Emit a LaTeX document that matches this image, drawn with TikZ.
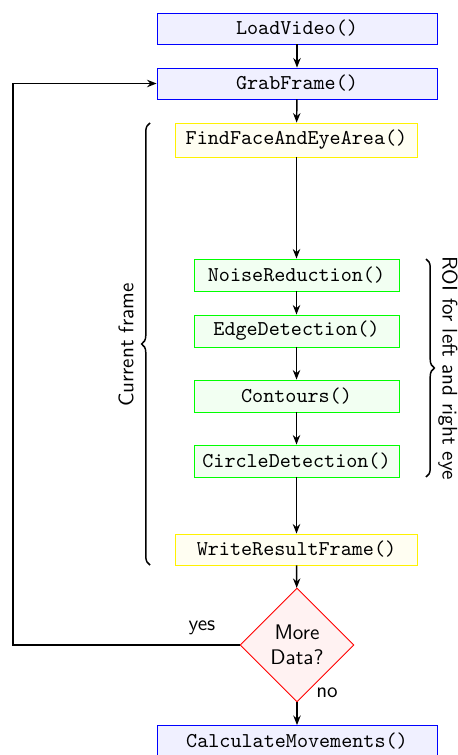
\documentclass[tikz,border=0pt]{standalone}
\usetikzlibrary{shapes.geometric,arrows.meta,decorations.pathreplacing}
\begin{document}
\begin{tikzpicture}[x=0.474pt,y=-0.474pt,
  box/.style={draw,rectangle,inner sep=0pt,font=\ttfamily,line width=0.4pt},
  bluebox/.style={box,draw=blue,fill=blue!6,minimum width=132.7pt,minimum height=14.7pt},
  yellowbox/.style={box,draw=yellow,fill=yellow!5,minimum width=114.7pt},
  greenbox/.style={box,draw=green,fill=green!5,minimum width=97.2pt,minimum height=15.2pt},
  decision/.style={diamond,draw=red,fill=red!5,aspect=1,minimum width=54pt,minimum height=54pt,inner sep=0pt,align=center,font=\sffamily},
  arr/.style={-{Stealth[length=4.5pt,width=3.5pt]},line width=0.7pt},
  bracestyle/.style={decorate,decoration={brace,amplitude=4pt},line width=0.7pt},
  lbl/.style={font=\sffamily}
]
\useasboundingbox (0,0) rectangle (457,755);
\node[bluebox] (load) at (297,28.5) {LoadVideo()};
\node[bluebox] (grab) at (297,83.5) {GrabFrame()};
\node[yellowbox,minimum height=16.1pt] (find) at (296.5,140) {FindFaceAndEyeArea()};
\node[greenbox] (noise) at (296.5,275) {NoiseReduction()};
\node[greenbox] (edge) at (296.5,331) {EdgeDetection()};
\node[greenbox] (cont) at (296.5,396) {Contours()};
\node[greenbox] (circ) at (296.5,461) {CircleDetection()};
\node[yellowbox,minimum height=14.7pt] (write) at (296.5,549.5) {WriteResultFrame()};
\node[decision] (more) at (297,645) {More\\Data?};
\node[bluebox] (calc) at (297,741) {CalculateMovements()};

\draw[arr] (load) -- (grab);
\draw[arr] (grab) -- (find);
\draw[arr] (find) -- (noise);
\draw[arr] (noise) -- (edge);
\draw[arr] (edge) -- (cont);
\draw[arr] (cont) -- (circ);
\draw[arr] (circ) -- (write);
\draw[arr] (write) -- (more);
\draw[arr] (more) -- (calc);
\coordinate (loop) at (13,645);
\draw[arr] (more.west) -- (loop) |- (grab.west);

\node[lbl] (yes) at (202,628) {yes};
\node[lbl] (no) at (327,693) {no};

\coordinate (lb1) at (150,565);
\coordinate (lb2) at (150,123);
\draw[bracestyle] (lb1) -- (lb2);
\node[lbl,rotate=90] (cf) at (126,345) {Current frame};

\coordinate (rb1) at (426,259);
\coordinate (rb2) at (426,477);
\draw[bracestyle] (rb1) -- (rb2);
\node[lbl,rotate=-90] (roi) at (448,368) {ROI for left and right eye};
\end{tikzpicture}
\end{document}
